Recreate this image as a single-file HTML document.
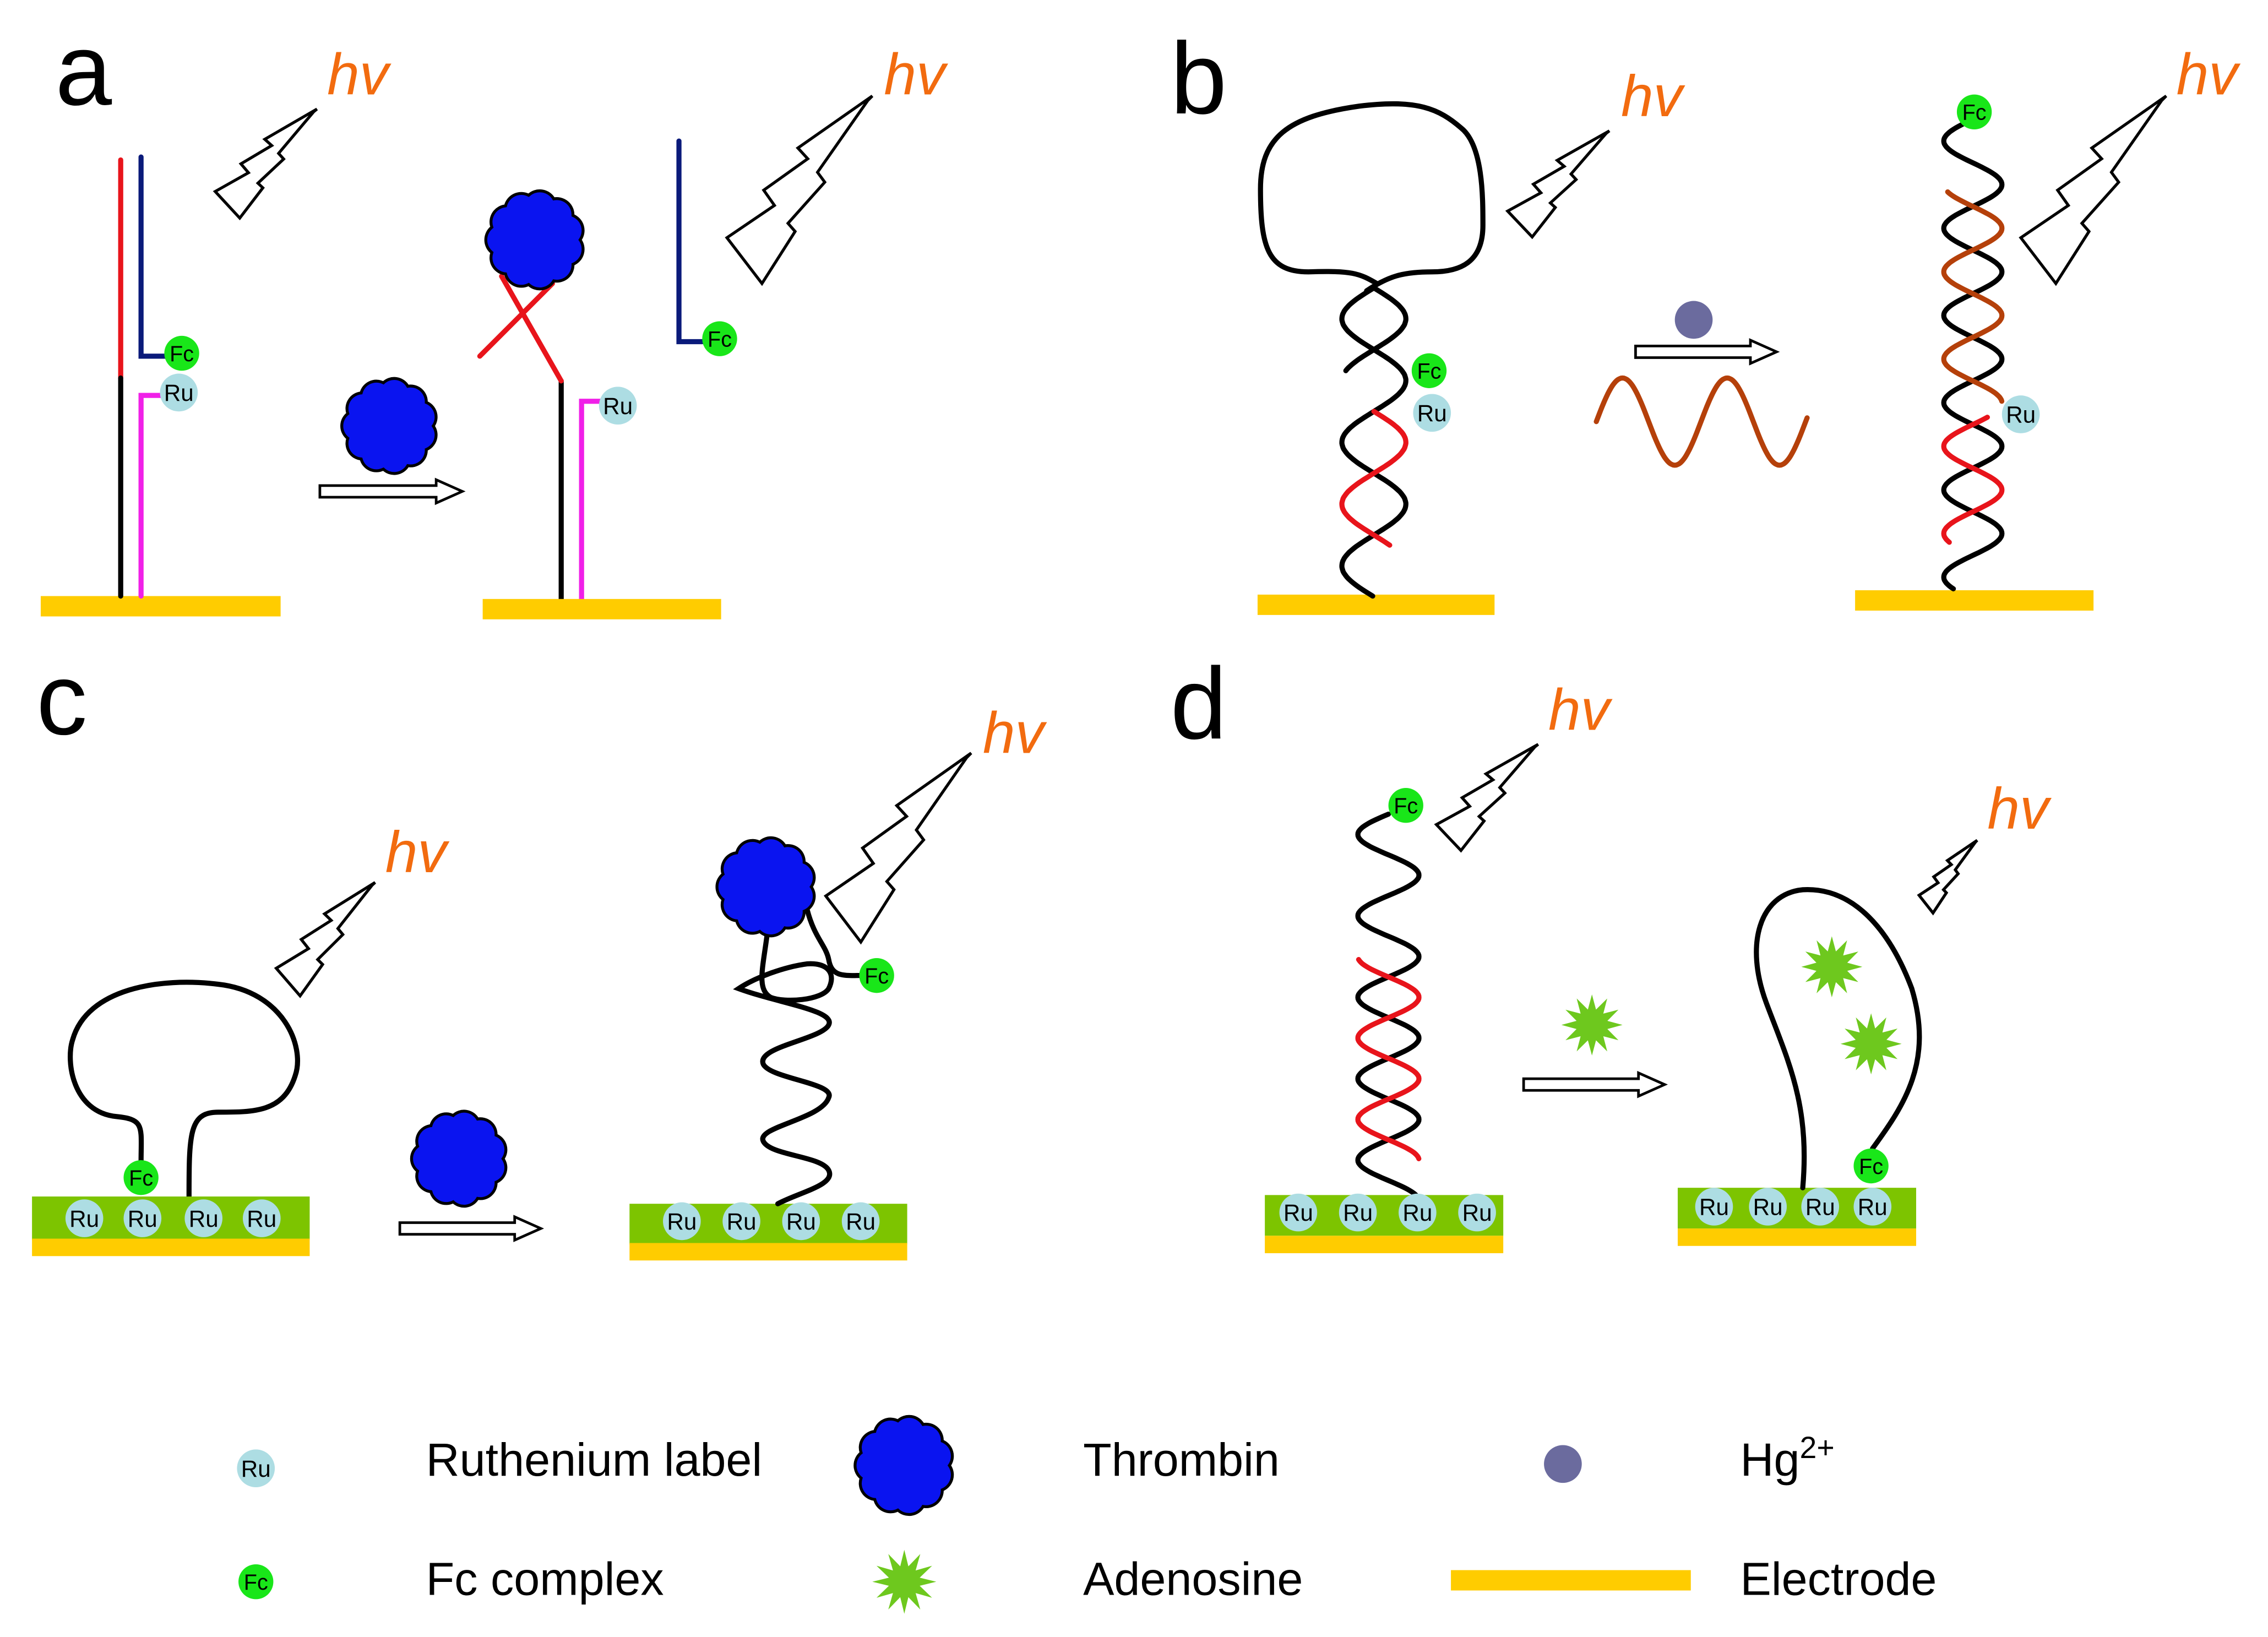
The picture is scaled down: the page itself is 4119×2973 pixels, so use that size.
<!DOCTYPE html>
<html><head><meta charset="utf-8"><style>
html,body{margin:0;padding:0;background:#fff}
svg{display:block}
text{font-family:"Liberation Sans",Arial,sans-serif}
.hv{fill:#F26B0F;font-style:italic;font-size:40px}
.lab{font-size:70px;fill:#000}
.lt{font-size:32px;fill:#000}
</style></head><body>
<svg id="s" width="4119" height="2973" viewBox="0 0 1560 1126" xmlns="http://www.w3.org/2000/svg">
<g id="g" fill="none" stroke-width="3.5" stroke-linecap="round">
<text class="lab" x="38" y="72" stroke="none">a</text>
<text class="lab" x="805" y="78" stroke="none">b</text>
<text class="lab" x="25" y="505" stroke="none">c</text>
<text class="lab" x="805" y="508" stroke="none">d</text>
<text class="hv" x="225" y="65" stroke="none">hv</text>
<text class="hv" x="608" y="65" stroke="none">hv</text>
<text class="hv" x="1115" y="80" stroke="none">hv</text>
<text class="hv" x="1497" y="65" stroke="none">hv</text>
<text class="hv" x="265" y="600" stroke="none">hv</text>
<text class="hv" x="676" y="518" stroke="none">hv</text>
<text class="hv" x="1065" y="502" stroke="none">hv</text>
<text class="hv" x="1367" y="570" stroke="none">hv</text>

<!-- panel a -->
<rect x="28" y="410" width="165" height="14" fill="#FFCC00" stroke="none"/>
<line x1="83" y1="110" x2="83" y2="260" stroke="#E8141B"/>
<line x1="83" y1="260" x2="83" y2="410" stroke="#000"/>
<polyline points="97,108 97,245 118,245" stroke="#0A1A7A"/>
<polyline points="97,410 97,272 112,272" stroke="#F020E8"/>
<line x1="386" y1="262" x2="386" y2="412" stroke="#000"/>
<polyline points="400,412 400,276 415,276" stroke="#F020E8"/>
<line x1="330" y1="245" x2="380" y2="195" stroke="#E8141B"/>
<line x1="345" y1="190" x2="386" y2="262" stroke="#E8141B"/>
<polyline points="467,97 467,235 483,235" stroke="#0A1A7A"/>
<rect x="332" y="412" width="164" height="14" fill="#FFCC00" stroke="none"/>

<!-- panel b -->
<path d="M947,195 C935,188 930,186 900,187 C872,187 867,170 867,130 C867,95 885,80 935,73 C975,68 990,75 1005,88 C1020,100 1020,135 1020,155 C1020,180 1005,187 985,187 C965,187 955,190 940,200" stroke="#000"/>
<rect x="865" y="409" width="163" height="14" fill="#FFCC00" stroke="none"/>
<rect x="1276" y="406" width="164" height="14" fill="#FFCC00" stroke="none"/>
<circle cx="1165" cy="220" r="13" fill="#6B6B9E" stroke="none"/>

<!-- panel c -->
<path d="M97,800 C97,775 100,770 80,768 C50,765 45,730 50,715 C60,680 110,672 150,677 C195,682 210,720 203,740 C195,765 175,765 150,765 C130,765 130,780 130,825" stroke="#000"/>
<rect x="22" y="823" width="191" height="30" fill="#7DC400" stroke="none"/>
<rect x="22" y="852" width="191" height="12" fill="#FFCC00" stroke="none"/>
<rect x="433" y="828" width="191" height="28" fill="#7DC400" stroke="none"/>
<rect x="433" y="855" width="191" height="12" fill="#FFCC00" stroke="none"/>
<path d="M535,828 C550,820 575,815 570,805 C565,795 530,795 525,785 C520,775 565,770 570,755 C575,745 530,742 525,732 C520,720 565,715 570,705 C575,695 535,690 508,680 C520,672 540,665 555,663 C570,662 575,670 570,680 C565,688 540,690 530,686 C520,680 525,665 528,640" stroke="#000"/>
<path d="M555,625 C560,645 568,650 570,660 C572,672 580,671 592,671" stroke="#000"/>

<!-- panel d -->
<rect x="870" y="822" width="164" height="28" fill="#7DC400" stroke="none"/>
<rect x="870" y="850" width="164" height="12" fill="#FFCC00" stroke="none"/>
<rect x="1154" y="817" width="164" height="28" fill="#7DC400" stroke="none"/>
<rect x="1154" y="845" width="164" height="12" fill="#FFCC00" stroke="none"/>
<path d="M1240,817 C1245,760 1230,730 1215,690 C1200,650 1210,615 1240,612 C1275,610 1300,640 1315,680 C1330,730 1310,760 1288,790" stroke="#000"/>

<!-- legend -->
<text class="lt" x="293" y="1015" stroke="none">Ruthenium label</text>
<text class="lt" x="745" y="1015" stroke="none">Thrombin</text>
<text class="lt" x="1197" y="1015" stroke="none">Hg<tspan font-size="21" dy="-12">2+</tspan></text>
<text class="lt" x="293" y="1097" stroke="none">Fc complex</text>
<text class="lt" x="745" y="1097" stroke="none">Adenosine</text>
<text class="lt" x="1197" y="1097" stroke="none">Electrode</text>
<circle cx="1075" cy="1007" r="13" fill="#6B6B9E" stroke="none"/>
<rect x="998" y="1080" width="165" height="14" fill="#FFCC00" stroke="none"/>
</g>
</svg>
<script>
var g=document.getElementById('g'),NS="http://www.w3.org/2000/svg";
function el(t,a,txt){var e=document.createElementNS(NS,t);for(var k in a)e.setAttribute(k,a[k]);if(txt)e.textContent=txt;g.appendChild(e);return e;}
function helix(cx,y0,y1,amp,per,ph,col,ys,ye){ys=ys==null?y0:ys;ye=ye==null?y1:ye;var d="";for(var y=ys;y<=ye+0.01;y+=1){var x=cx+amp*Math.sin(2*Math.PI*(y-y0)/per+ph);d+=(d?"L":"M")+x.toFixed(1)+","+y.toFixed(1);}el('path',{d:d,stroke:col,fill:'none','stroke-width':3.5});}
function wave(x0,x1,yc,amp,per,col){var d="";for(var x=x0;x<=x1;x+=1){var y=yc-amp*Math.sin(2*Math.PI*(x-x0)/per);d+=(d?"L":"M")+x+","+y.toFixed(1);}el('path',{d:d,stroke:col,fill:'none','stroke-width':3.5});}
function bead(cx,cy,r,fill,t,fs){el('circle',{cx:cx,cy:cy,r:r,fill:fill,stroke:'none'});el('text',{x:cx,y:cy+fs*0.36,'text-anchor':'middle','font-size':fs,fill:'#000',stroke:'none'},t);}
function ru(x,y){bead(x,y,13,'#ADDDE3','Ru',16);}
function fc(x,y){bead(x,y,12,'#19E619','Fc',15);}
function blob(cx,cy,r){var n=11,d="",br=r*0.36;for(var i=0;i<=n;i++){var a=2*Math.PI*i/n;var x=cx+r*Math.cos(a),y=cy+r*Math.sin(a);if(i==0)d="M"+x+","+y;else d+="A"+br+","+br+" 0 0 1 "+x.toFixed(1)+","+y.toFixed(1);}d+="Z";el('path',{d:d,fill:'#0A14F0',stroke:'#000','stroke-width':2});}
function star(cx,cy,r1,r2,n){var p=[];for(var i=0;i<2*n;i++){var a=Math.PI*i/n,r=i%2?r2:r1;p.push((cx+r*Math.cos(a)).toFixed(1)+","+(cy+r*Math.sin(a)).toFixed(1));}el('polygon',{points:p.join(" "),fill:'#6EC81E',stroke:'none'});}
var BP=[[845,200],[430,490],[485,550],[240,725],[300,810],[35,990],[230,1245],[415,955],[375,910],[580,680],[540,625],[820,225]];
function bolt(x0,y0,x1,y1){var p=BP.map(function(q){return (x0+(q[0]-35)/810*(x1-x0)).toFixed(1)+","+(y0+(q[1]-200)/1045*(y1-y0)).toFixed(1);});
el('polygon',{points:p.join(" "),fill:'#fff',stroke:'#000','stroke-width':2,'stroke-linejoin':'miter'});}
function arrow(x0,x1,y){var h=4,hw=8;el('polygon',{points:[x0+","+(y-h),(x1-18)+","+(y-h),(x1-18)+","+(y-hw),x1+","+y,(x1-18)+","+(y+hw),(x1-18)+","+(y+h),x0+","+(y+h)].join(" "),fill:'#fff',stroke:'#000','stroke-width':1.8});}

bolt(148,75,218,150);bolt(500,66,600,195);bolt(1037,90,1107,163);bolt(1390,66,1490,195);
bolt(190,607,258,685);bolt(568,518,668,648);bolt(988,512,1058,585);bolt(1320,578,1360,628);
arrow(220,318,338);arrow(1125,1222,242);arrow(275,372,845);arrow(1048,1145,746);
fc(125,243);ru(123,270);ru(425,279);fc(495,233);
blob(268,293,30);blob(368,165,31);
helix(945,198,410,22,85,Math.PI,'#000');
helix(945,198,410,22,85,0,'#000',198,255);
helix(945,198,410,22,85,0,'#E8141B',283,375);
fc(983,255);ru(985,284);
wave(1098,1243,290,30,72,'#B5400A');
helix(1357,82,405,20,60,Math.PI,'#000');
helix(1357,82,405,20,60,0,'#B5400A',132,276);
helix(1357,82,405,20,60,0,'#E8141B',287,373);
fc(1358,77);ru(1390,285);
[58,98,140,180].forEach(function(x){ru(x,838);});fc(97,810);
blob(316,797,30);
[469,510,551,592].forEach(function(x){ru(x,840);});
blob(527,610,31);fc(603,671);
helix(955,560,822,21,56,Math.PI,'#000');
helix(955,560,822,21,56,0,'#E8141B',660,797);
fc(967,554);
[893,934,975,1016].forEach(function(x){ru(x,834);});
star(1095,705,21,11,12);
[1179,1216,1252,1288].forEach(function(x){ru(x,830);});fc(1287,802);
star(1260,665,21,11,12);star(1287,718,21,11,12);
ru(176,1010);fc(176,1088);blob(622,1008,31);star(622,1088,22,11,12);
</script>
</body></html>
